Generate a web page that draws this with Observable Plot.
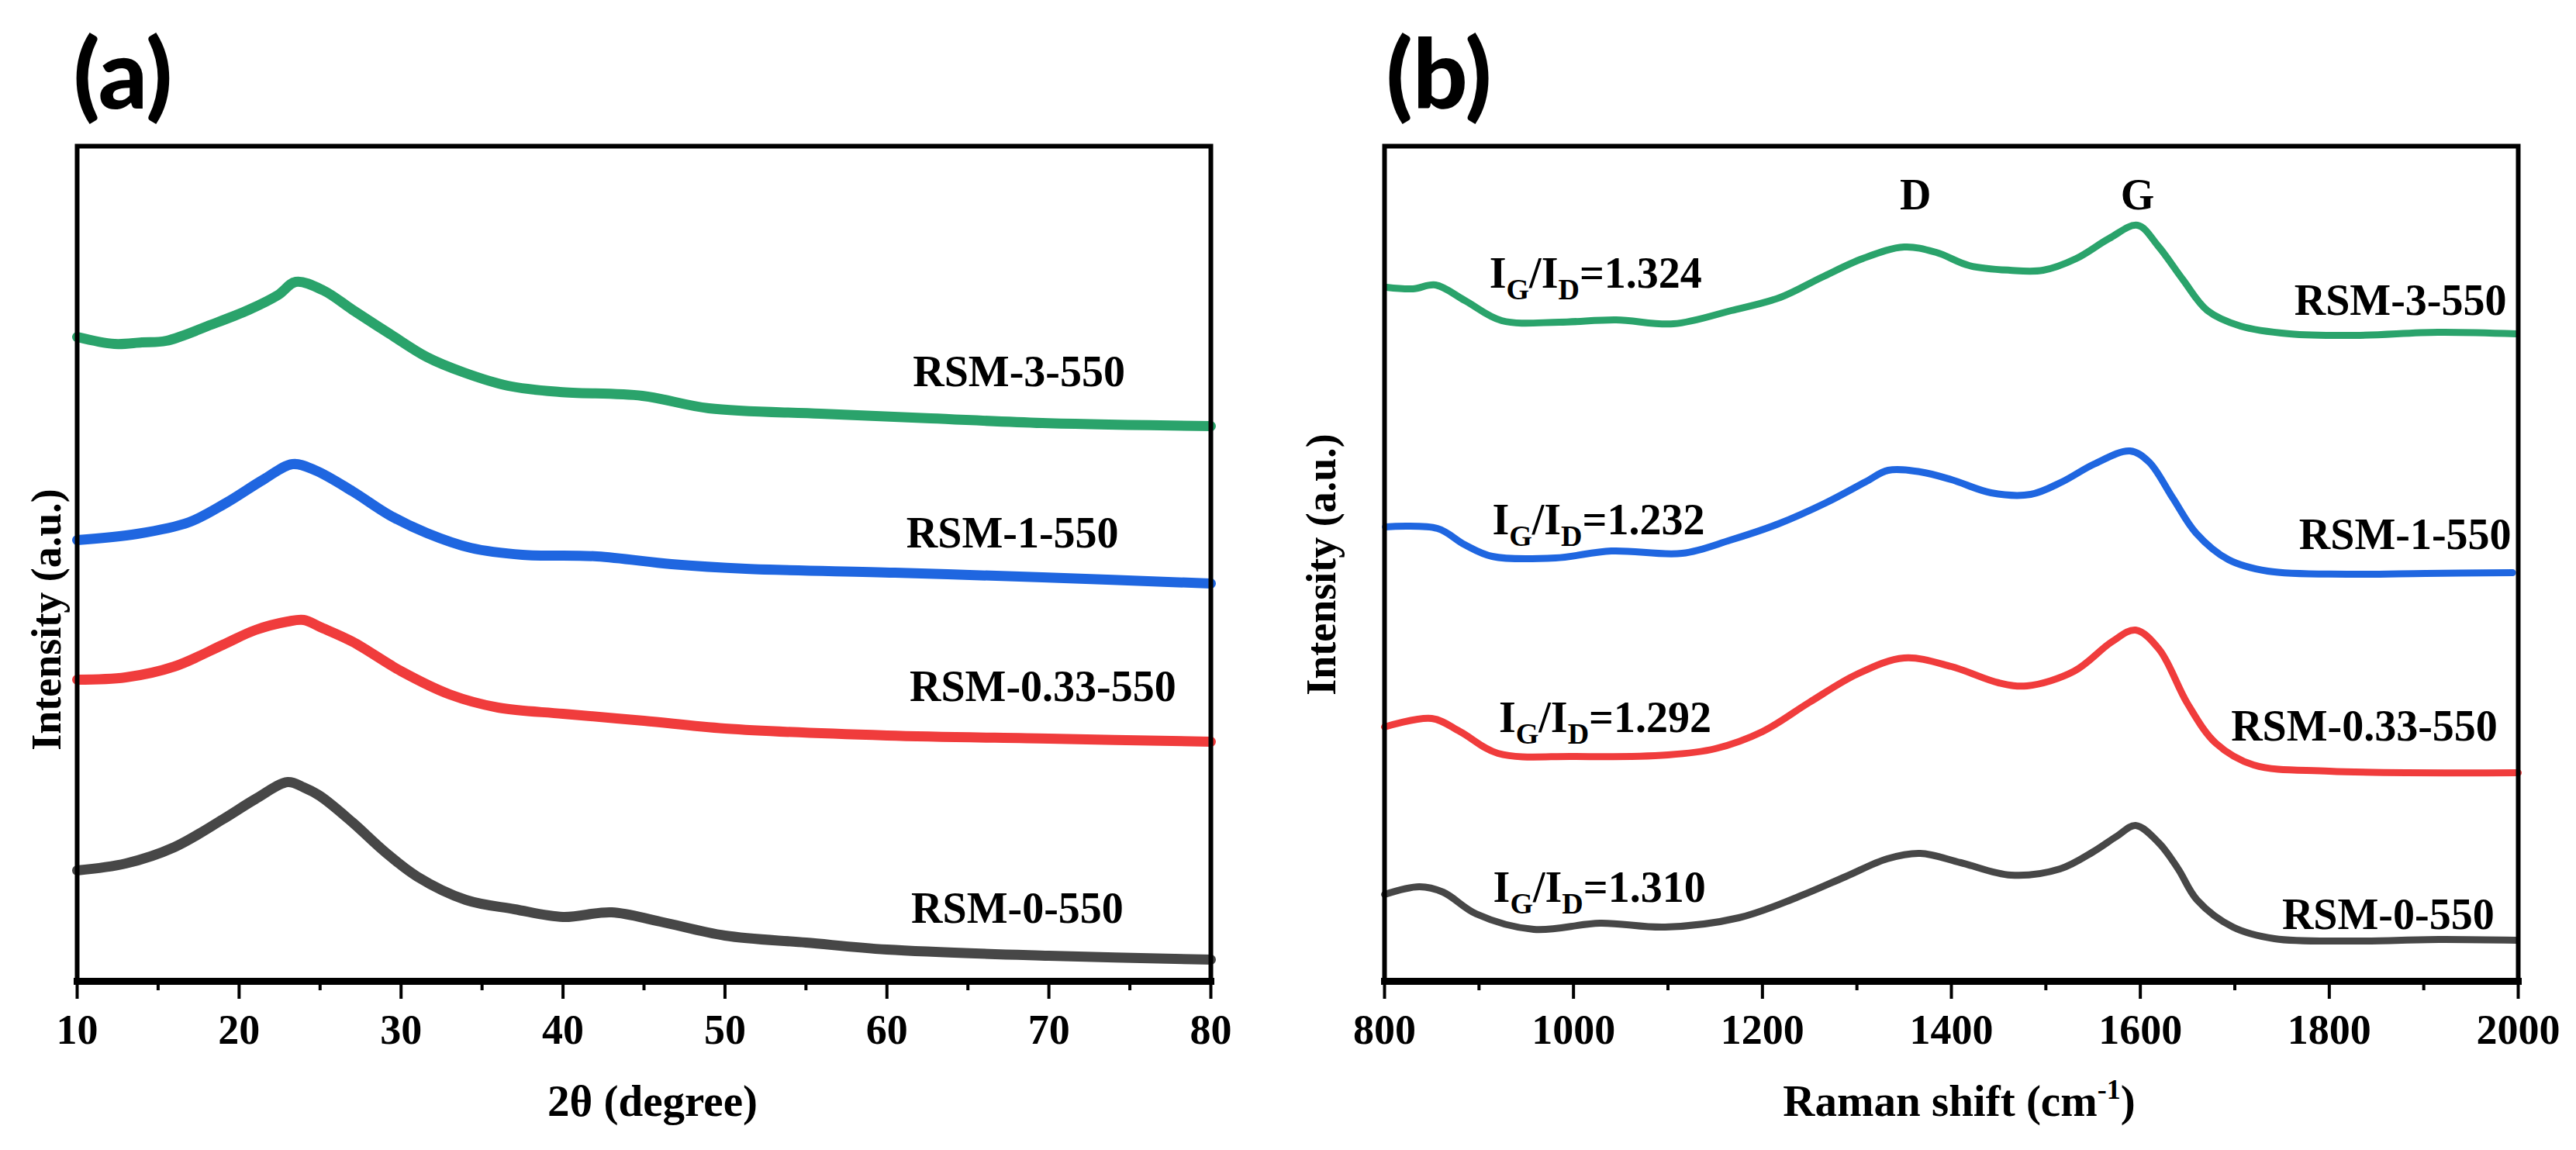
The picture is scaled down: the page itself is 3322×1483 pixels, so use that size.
<!DOCTYPE html>
<html><head><meta charset="utf-8">
<script src="https://cdn.jsdelivr.net/npm/d3@7"></script>
<script src="https://cdn.jsdelivr.net/npm/@observablehq/plot@0.6"></script>
<style>
html,body{margin:0;padding:0;background:#fff;}
#wrap{display:flex;width:3322px;height:1483px;background:#fff;}
</style></head><body><div id="wrap"></div>
<script>
// ---------- Panel (a): XRD, 2θ (degree) vs intensity (a.u., offset) ----------
const xrdNames = ["RSM-3-550", "RSM-1-550", "RSM-0.33-550", "RSM-0-550"];
const seriesColors = ["#2aa36b", "#1f66e0", "#f03c3c", "#474747"];

const xrd3 = [[10,831],[12.3,822],[14,824],[15.5,826],[18.3,847],[20.6,866],[22.4,885],[23.5,902],[25.2,891],[27,866],[29.3,835],[31.6,805],[33.9,785],[36.6,768],[39.8,760],[44.9,755],[49,739],[55.9,732],[62.7,726],[69.6,720],[80,716]];
const xrd1 = [[10,569],[13.7,577],[16.9,592],[19.2,617],[21.5,647],[23.3,667],[24.7,659],[27,632],[29.3,601],[31.6,578],[34.3,559],[37.5,550],[42.1,548],[46.7,538],[51.3,532],[60.5,527],[69.6,521],[80,513]];
const xrd033 = [[10,389],[13,392],[16,406],[19,434],[21,453],[23,464],[24,466],[25,457],[27,438],[30,400],[33,370],[36,353],[40,345],[45,336],[50,326],[60,317],[70,313],[80,309]];
const xrd0 = [[10,143],[13,152],[16,173],[19,209],[21,235],[23,257],[24,250],[25,239],[27,205],[29,167],[31,135],[34,105],[37,93],[40,83],[43,89],[46,77],[50,59],[55,50],[60,41],[70,33],[80,28]];

const xrdMajorTicks = [10, 20, 30, 40, 50, 60, 70, 80];
const xrdMinorTicks = [15, 25, 35, 45, 55, 65, 75];
const xrdLabelX = [61.6, 61.2, 61.4, 61.5];
const xrdLabelY = [785, 577, 379, 93];

// ---------- Panel (b): Raman shift (cm-1) vs intensity ----------
const raman3 = [[802,895],[830,893],[854,898],[885,878],[924,852],[985,850],[1045,853],[1106,848],[1167,865],[1219,882],[1263,908],[1306,932],[1350,947],[1384,940],[1419,923],[1462,917],[1497,917],[1532,932],[1567,958],[1597,975],[1619,948],[1645,905],[1671,865],[1706,845],[1758,835],[1828,833],[1915,837],[1998,835]];
const raman1 = [[801,586],[856,584],[885,563],[914,548],[981,546],[1040,555],[1115,552],[1166,569],[1217,590],[1267,617],[1309,644],[1333,659],[1367,657],[1400,647],[1442,630],[1484,628],[1517,644],[1551,667],[1589,684],[1609,670],[1634,624],[1659,578],[1693,544],[1735,529],[1819,525],[1902,526],[1994,527]];
const raman033 = [[800,328],[850,339],[880,322],[920,294],[1000,290],[1100,292],[1150,300],[1200,322],[1250,360],[1300,396],[1350,417],[1400,406],[1450,385],[1480,381],[1530,400],[1570,438],[1595,453],[1620,428],[1650,358],[1680,307],[1720,279],[1800,271],[2000,269]];
const raman0 = [[800,112],[837,122],[862,115],[897,87],[958,67],[1028,75],[1097,70],[1175,82],[1236,108],[1288,135],[1332,158],[1367,165],[1410,153],[1463,137],[1515,145],[1550,167],[1575,187],[1595,201],[1620,178],[1640,145],[1660,105],[1698,70],[1742,55],[1829,52],[1916,54],[1998,53]];

const ramanMajorTicks = [800, 1000, 1200, 1400, 1600, 1800, 2000];
const ramanMinorTicks = [900, 1100, 1300, 1500, 1700, 1900];
const ramanLabelX = [1763, 1768, 1696, 1750];
const ramanLabelY = [877, 575, 328, 85];
const ratioValues = ["1.324", "1.232", "1.292", "1.310"];
const ratioX = [911, 914, 921, 915];
const ratioY = [912, 594, 339, 120];
const peakNames = ["D", "G"];
const peakX = [1362, 1597];
const peakY = [1013, 1013];

// ---------- build tables ----------
function rows(seriesList) {
  const out = [];
  seriesList.forEach((s, i) => s.forEach(([x, y]) => out.push({series: xrdNames[i], x, y})));
  return out;
}
const xrdRows = rows([xrd3, xrd1, xrd033, xrd0]);
const ramanRows = rows([raman3, raman1, raman033, raman0]);
const xrdLabels = xrdNames.map((n, i) => ({n, x: xrdLabelX[i], y: xrdLabelY[i]}));
const ramanLabels = xrdNames.map((n, i) => ({n, x: ramanLabelX[i], y: ramanLabelY[i]}));
const ratioLabels = ratioValues.map((v, i) => ({v, x: ratioX[i], y: ratioY[i]}));
const peakLabels = peakNames.map((n, i) => ({n, x: peakX[i], y: peakY[i]}));

const serif = "'Liberation Serif','Times New Roman',Times,serif";
const W = 1661, H = 1483;

function panel({rowsData, xDomain, major, minor, labels, xTitle, yDx, yDy, mLeft, mRight, letter, letterDx, extra, xTitleDx, lineW}) {
  return Plot.plot({
    width: W, height: H,
    marginLeft: mLeft, marginRight: mRight, marginTop: 188, marginBottom: 218,
    style: {fontFamily: serif, fontWeight: "bold", fontSize: "54px", background: "white", color: "black", overflow: "visible"},
    x: {domain: xDomain, axis: null},
    y: {domain: [0, 1077], axis: null},
    color: {domain: xrdNames, range: seriesColors},
    marks: [
      Plot.line(rowsData, {x: "x", y: "y", z: "series", stroke: "series", strokeWidth: lineW, curve: "catmull-rom"}),
      Plot.text(labels, {x: "x", y: "y", text: "n", textAnchor: "start", lineAnchor: "middle", fontSize: 56, fill: "black"}),
      ...(extra || []),
      Plot.frame({stroke: "black", strokeWidth: 6}),
      Plot.frame({anchor: "bottom", stroke: "black", strokeWidth: 9}),
      Plot.axisX({ticks: major, tickSize: 23, tickPadding: 19, strokeWidth: 4, fontSize: 54, label: null, tickFormat: d => String(d)}),
      Plot.axisX({ticks: minor, tickSize: 12, strokeWidth: 4, label: null, tickFormat: () => ""}),
      Plot.text([xTitle], {frameAnchor: "bottom", dy: 155, dx: xTitleDx, lineAnchor: "middle", textAnchor: "middle", fontSize: 57}),
      Plot.text(["Intensity (a.u.)"], {frameAnchor: "left", rotate: -90, dx: yDx, dy: yDy, lineAnchor: "middle", textAnchor: "middle", fontSize: 54}),
      Plot.text([letter], {frameAnchor: "top-left", dx: letterDx, dy: -88, textAnchor: "start", lineAnchor: "middle", fontSize: 124, fontFamily: "Lato, 'Open Sans', sans-serif", fontWeight: 900})
    ]
  });
}

const plotA = panel({
  rowsData: xrdRows, xDomain: [10, 80], major: xrdMajorTicks, minor: xrdMinorTicks,
  labels: xrdLabels, xTitle: "2θ (degree)", yDx: -39, yDy: 72, mLeft: 99, mRight: 100,
  letter: "(a)", letterDx: -5, xTitleDx: 11, lineW: 13
});

const plotB = panel({
  rowsData: ramanRows, xDomain: [800, 2000], major: ramanMajorTicks, minor: ramanMinorTicks,
  labels: ramanLabels, xTitle: "Raman shift (cm", yDx: -81, yDy: 1, mLeft: 124, mRight: 75,
  letter: "(b)", letterDx: 2, xTitleDx: 10, lineW: 9,
  extra: [
    Plot.text(ratioLabels, {x: "x", y: "y", text: "v", textAnchor: "start", lineAnchor: "middle", fontSize: 56}),
    Plot.text(peakLabels, {x: "x", y: "y", text: "n", textAnchor: "middle", lineAnchor: "middle", fontSize: 56})
  ]
});

const wrap = document.getElementById("wrap");
wrap.appendChild(plotA);
wrap.appendChild(plotB);

// subscripts for I_G/I_D labels and superscript for cm-1 (matched by content)
d3.select(plotB).selectAll("text").each(function () {
  const content = this.textContent;
  const t = d3.select(this);
  if (ratioValues.includes(content)) {
    t.text(null);
    t.append("tspan").text("I");
    t.append("tspan").attr("font-size", 38).attr("dy", 15).text("G");
    t.append("tspan").attr("dy", -15).text("/I");
    t.append("tspan").attr("font-size", 38).attr("dy", 15).text("D");
    t.append("tspan").attr("dy", -15).text("=" + content);
  } else if (content === "Raman shift (cm") {
    t.text(null);
    t.append("tspan").text(content);
    t.append("tspan").attr("font-size", 36).attr("dy", -22).text("-1");
    t.append("tspan").attr("dy", 22).text(")");
  }
});
</script></body></html>
